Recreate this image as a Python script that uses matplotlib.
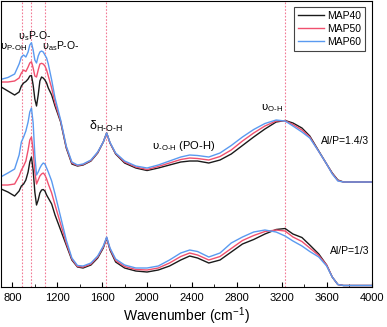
import numpy as np
import matplotlib
matplotlib.use("Agg")
import matplotlib.pyplot as plt

plt.rcParams['font.family'] = ['Liberation Sans', 'DejaVu Sans']
plt.rcParams['mathtext.fontset'] = 'custom'
plt.rcParams['mathtext.rm'] = 'Liberation Sans'
plt.rcParams['mathtext.it'] = 'Liberation Sans:italic'
plt.rcParams['mathtext.sf'] = 'DejaVu Sans'

# wavenumbers (cm-1)
wn = [700, 760, 820, 860, 880, 900, 920, 940, 955, 970, 985, 1000, 1015, 1030,
      1045, 1060, 1075, 1090, 1105, 1120, 1150, 1180, 1230, 1280, 1330, 1380,
      1430, 1500, 1560, 1610, 1640, 1670, 1720, 1800, 1900, 2000, 2100, 2200,
      2300, 2380, 2450, 2550, 2650, 2750, 2850, 2950, 3050, 3150, 3230, 3300,
      3380, 3450, 3530, 3600, 3650, 3700, 3750, 3850, 4000]

# Al/P = 1.4/3 (upper set, offset)
map40_hi = [200, 196, 192, 195, 201, 204, 205.5, 208, 211, 211.5, 202, 188, 181, 192,
            206, 210, 209, 207, 204, 199, 192, 181, 165, 139, 123, 121,
            122, 126, 134, 145, 154, 144, 133, 124, 119, 116.5, 119, 122,
            125, 126, 126, 124, 127, 133, 141.5, 150, 158, 165, 166.5, 164,
            159, 151, 136, 123, 114, 107, 105, 105, 105]
map50_hi = [205, 205, 206, 209, 214, 217, 215.5, 220, 224, 225.3, 219, 211, 210, 217,
            223, 223.7, 223, 221, 217, 211, 199, 184, 166, 140, 124, 121.5,
            122.5, 126.5, 134.5, 145, 154, 144, 133.5, 125, 120, 117.5, 120.5, 124,
            127.5, 129, 128.5, 127, 130.5, 137, 146, 154, 161, 166, 166.3, 162.5,
            157, 150, 135.5, 123, 113.5, 106.5, 105, 105, 105]
map60_hi = [207.7, 209.5, 213, 223, 230, 232, 230, 235, 242, 244.3, 237, 227, 224, 231,
            235, 236, 235, 232, 229, 223, 207, 189, 167, 141, 125, 122,
            123, 127, 135, 145, 154, 144.5, 134, 126, 121, 119, 122, 126,
            130, 132, 131.5, 130, 134, 141.5, 150, 157.5, 163.5, 167, 166, 161,
            155, 149, 135.5, 123, 113, 106, 105, 105, 105]

# Al/P = 1/3 (lower set)
map40_lo = [98, 95, 91, 96, 101, 103, 107, 115, 125, 130, 117, 95, 82, 87,
            94, 97, 97.5, 96, 92, 89, 83, 72, 57, 42, 27, 20,
            19, 22, 29, 39, 49, 37, 25, 19, 16, 15, 17, 21,
            27, 31, 29, 24, 27, 35, 43, 47.5, 53, 57.5, 58.5, 53,
            49.5, 42, 33, 22, 10, 2.5, 1.5, 1.5, 1.5]
map50_lo = [102, 102, 103, 111, 117, 121, 126, 137, 147, 150, 137, 115, 103, 107,
            111, 113, 114, 112, 108, 103, 94, 82, 63, 44, 28, 20.5,
            20, 23, 30, 40, 49.5, 38, 26.5, 20.5, 17.5, 17, 19, 24,
            30.5, 34, 32, 27, 30.5, 38.5, 46.5, 51.5, 55.5, 57, 56, 50,
            45.5, 39, 31.5, 22, 10, 2.5, 1.5, 1.5, 1.5]
map60_lo = [110.3, 114, 118, 132, 145, 150, 156, 165, 175, 179, 164, 132, 112, 115,
            119, 122, 124, 123, 119, 115, 106, 93, 70, 47, 29, 21.5,
            21, 24, 31, 41, 50, 39, 28, 22, 19, 19, 21, 27,
            34, 37, 35.5, 30, 34, 44, 50, 55, 57, 55, 51, 46,
            41, 35.5, 30, 21, 10, 2.5, 1.5, 1.5, 1.5]

labels = ['MAP40', 'MAP50', 'MAP60']
colors = ['#1a1a1a', '#f0506e', '#5a9af0']
band_lines = [890, 970, 1090, 1638, 3230]

fig = plt.figure(figsize=(3.87, 3.27), dpi=100)
ax = fig.add_axes([0.003, 0.1223, 0.957, 0.8746])

for xv in band_lines:
    ax.axvline(xv, color='#f27a95', ls=(0, (1.5, 1.5)), lw=0.8, zorder=1)

for ys, c, lab in zip([map40_hi, map50_hi, map60_hi], colors, labels):
    ax.plot(wn, ys, color=c, lw=1.0, label=lab, zorder=2)
for ys, c in zip([map40_lo, map50_lo, map60_lo], colors):
    ax.plot(wn, ys, color=c, lw=1.0, zorder=2)

ax.set_xlim(700, 4000)
ax.set_ylim(0, 286)
ax.set_xticks(np.arange(800, 4001, 400))
ax.set_xticks(np.arange(800, 4001, 200), minor=True)
ax.tick_params(axis='x', which='both', direction='in', labelsize=8, pad=4)
ax.tick_params(axis='x', which='major', length=3.5)
ax.tick_params(axis='x', which='minor', length=2)
ax.set_yticks([])
ax.set_xlabel('Wavenumber (cm$^{\\mathregular{-1}}$)', fontsize=10, labelpad=2)

# band assignments
fs = 7.5
U = '$\\mathsf{υ}$'
ax.text(815, 240, U + '$_{\\mathregular{P‐OH}}$', fontsize=8, ha='center', va='center')
ax.text(995, 251, U + '$_{\\mathregular{s}}$P-O-', fontsize=fs, ha='center', va='center')
ax.text(1235, 241, U + '$_{\\mathregular{as}}$P-O-', fontsize=fs, ha='center', va='center')
ax.text(1632, 161, 'δ$_{\\mathregular{H‐O‐H}}$', fontsize=9, ha='center', va='center')
ax.text(2328, 141, U + '$_{\\mathregular{‐O‐H}}$ (PO-H)', fontsize=8, ha='center', va='center')
ax.text(3113, 179, U + '$_{\\mathregular{O‐H}}$', fontsize=8, ha='center', va='center')
ax.text(3763, 146, 'Al/P=1.4/3', fontsize=fs, ha='center', va='center')
ax.text(3807, 36, 'Al/P=1/3', fontsize=fs, ha='center', va='center')

leg = ax.legend(loc='upper right', bbox_to_anchor=(0.982, 0.979), borderaxespad=0,
                fontsize=7.5, handlelength=2.5, handletextpad=0.3, borderpad=0.35,
                labelspacing=0.3, fancybox=False, edgecolor='#444444', framealpha=1)
leg.get_frame().set_linewidth(0.8)

fig.savefig('out.png', dpi=100)
